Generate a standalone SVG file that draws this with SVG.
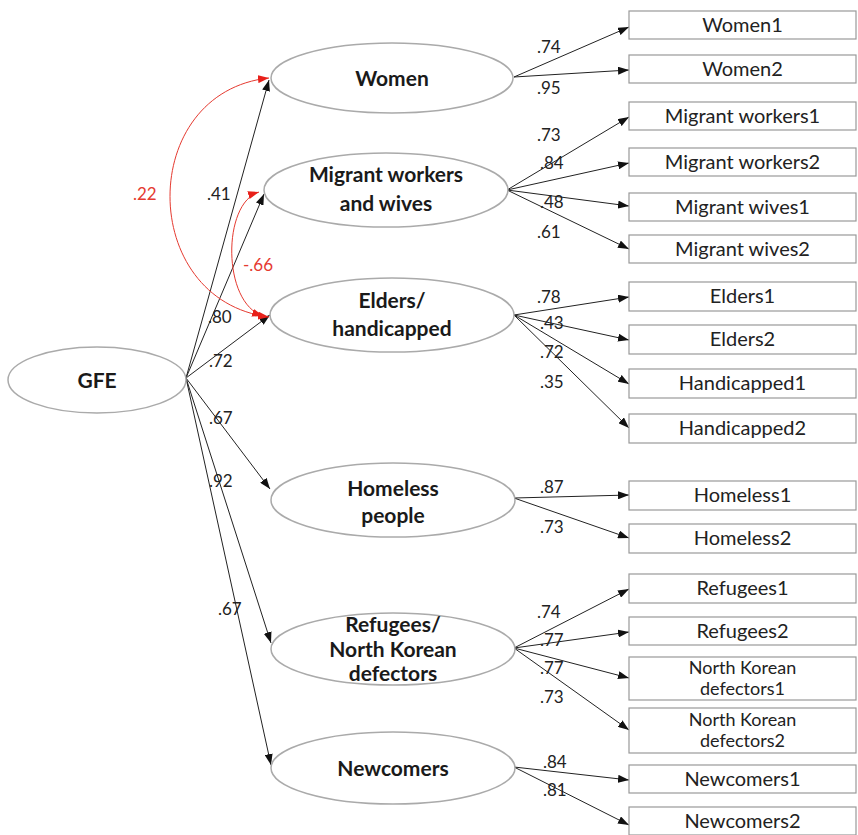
<svg xmlns="http://www.w3.org/2000/svg" width="858" height="835" viewBox="0 0 858 835">
<style>
.ell{fill:#fff;stroke:#aaa;stroke-width:1.5}
.box{fill:#fff;stroke:#999;stroke-width:1.2}
.lat{font-family:Lato,"Open Sans",sans-serif;font-weight:bold;font-size:21px;fill:#1a1a1a;text-anchor:middle}
.obs{font-family:Lato,"Open Sans",sans-serif;font-size:20px;fill:#222;text-anchor:middle}
.obs2{font-family:Lato,"Open Sans",sans-serif;font-size:18px;fill:#222;text-anchor:middle}
.coef{font-family:Lato,"Open Sans",sans-serif;font-size:17px;fill:#222}
.red{font-family:Lato,"Open Sans",sans-serif;font-size:17px;fill:#e53a30}
.arr{stroke:#222;stroke-width:1;fill:none;marker-end:url(#ah)}
.rarr{stroke:#e53a30;stroke-width:1;fill:none;marker-end:url(#rh);marker-start:url(#rhs)}
</style>
<defs>
<marker id="ah" markerUnits="userSpaceOnUse" markerWidth="11" markerHeight="8" refX="11" refY="4" orient="auto"><path d="M0,0 L11,4 L0,8 z" fill="#111"/></marker>
<marker id="rh" markerUnits="userSpaceOnUse" markerWidth="11" markerHeight="8" refX="11" refY="4" orient="auto"><path d="M0,0 L11,4 L0,8 z" fill="#e8201a"/></marker>
<marker id="rhs" markerUnits="userSpaceOnUse" markerWidth="11" markerHeight="8" refX="0" refY="4" orient="auto"><path d="M11,0 L0,4 L11,8 z" fill="#e8201a"/></marker>
</defs>

<g id="connectors">
<line class="arr" x1="186" y1="378" x2="269" y2="80"/>
<line class="arr" x1="186" y1="378" x2="264" y2="194"/>
<line class="arr" x1="186" y1="378" x2="270" y2="315"/>
<line class="arr" x1="186" y1="378" x2="270" y2="489"/>
<line class="arr" x1="186" y1="378" x2="271" y2="643"/>
<line class="arr" x1="186" y1="378" x2="271" y2="765"/>
<path class="rarr" d="M269,78 C137,92 137,300 269,317"/>
<path class="rarr" d="M259,192 C222,203 222,303 263,316"/>

<line class="arr" x1="514" y1="77" x2="629" y2="27"/>
<line class="arr" x1="514" y1="77" x2="629" y2="70"/>
<line class="arr" x1="507" y1="190" x2="629" y2="117"/>
<line class="arr" x1="507" y1="190" x2="629" y2="163"/>
<line class="arr" x1="507" y1="190" x2="629" y2="206"/>
<line class="arr" x1="507" y1="190" x2="629" y2="249"/>
<line class="arr" x1="514" y1="315" x2="629" y2="297"/>
<line class="arr" x1="514" y1="315" x2="629" y2="340"/>
<line class="arr" x1="514" y1="315" x2="629" y2="384"/>
<line class="arr" x1="514" y1="315" x2="629" y2="428"/>
<line class="arr" x1="514" y1="498" x2="629" y2="495"/>
<line class="arr" x1="514" y1="498" x2="629" y2="538"/>
<line class="arr" x1="514" y1="648" x2="629" y2="589"/>
<line class="arr" x1="514" y1="648" x2="629" y2="632"/>
<line class="arr" x1="514" y1="648" x2="629" y2="678"/>
<line class="arr" x1="514" y1="648" x2="629" y2="730"/>
<line class="arr" x1="514" y1="767" x2="629" y2="780"/>
<line class="arr" x1="514" y1="767" x2="629" y2="825"/>

<text class="red" x="133" y="200">.22</text>
<text class="red" x="243" y="271">-.66</text>
<text class="coef" x="207" y="200">.41</text>
<text class="coef" x="208" y="323">.80</text>
<text class="coef" x="209" y="367">.72</text>
<text class="coef" x="209" y="424">.67</text>
<text class="coef" x="209" y="487">.92</text>
<text class="coef" x="218" y="615">.67</text>

<text class="coef" x="537" y="53">.74</text>
<text class="coef" x="537" y="94">.95</text>
<text class="coef" x="537" y="141">.73</text>
<text class="coef" x="540" y="169">.84</text>
<text class="coef" x="540" y="208">.48</text>
<text class="coef" x="537" y="238">.61</text>
<text class="coef" x="537" y="303">.78</text>
<text class="coef" x="540" y="329">.43</text>
<text class="coef" x="540" y="358">.72</text>
<text class="coef" x="540" y="388">.35</text>
<text class="coef" x="540" y="493">.87</text>
<text class="coef" x="540" y="533">.73</text>
<text class="coef" x="537" y="618">.74</text>
<text class="coef" x="540" y="646">.77</text>
<text class="coef" x="540" y="674">.77</text>
<text class="coef" x="540" y="703">.73</text>
<text class="coef" x="543" y="768">.84</text>
<text class="coef" x="543" y="796">.81</text>
</g>

<g id="GFE"><ellipse class="ell" cx="97" cy="380" rx="89" ry="33"/><text class="lat" x="97" y="388">GFE</text></g>
<g id="Women"><ellipse class="ell" cx="392" cy="78" rx="121" ry="35"/><text class="lat" x="392" y="86">Women</text></g>
<g id="Migrant"><ellipse class="ell" cx="386" cy="190" rx="122" ry="37"/><text class="lat" x="386" y="182">Migrant workers</text><text class="lat" x="386" y="211">and wives</text></g>
<g id="Elders"><ellipse class="ell" cx="392" cy="315" rx="122" ry="37"/><text class="lat" x="392" y="308">Elders/</text><text class="lat" x="392" y="336">handicapped</text></g>
<g id="Homeless"><ellipse class="ell" cx="393" cy="500" rx="122" ry="37"/><text class="lat" x="393" y="496">Homeless</text><text class="lat" x="393" y="523">people</text></g>
<g id="Refugees"><ellipse class="ell" cx="393" cy="649" rx="122" ry="36"/><text class="lat" x="393" y="632">Refugees/</text><text class="lat" x="393" y="657">North Korean</text><text class="lat" x="393" y="681">defectors</text></g>
<g id="Newcomers"><ellipse class="ell" cx="393" cy="768" rx="122" ry="36"/><text class="lat" x="393" y="776">Newcomers</text></g>

<g id="Women1"><rect class="box" x="629" y="11" width="227" height="28"/><text class="obs" x="742.5" y="32">Women1</text></g>
<g id="Women2"><rect class="box" x="629" y="55" width="227" height="28"/><text class="obs" x="742.5" y="76">Women2</text></g>
<g id="MW1"><rect class="box" x="629" y="102" width="227" height="28"/><text class="obs" x="742.5" y="123">Migrant workers1</text></g>
<g id="MW2"><rect class="box" x="629" y="148" width="227" height="28"/><text class="obs" x="742.5" y="169">Migrant workers2</text></g>
<g id="MWives1"><rect class="box" x="629" y="193" width="227" height="28"/><text class="obs" x="742.5" y="214">Migrant wives1</text></g>
<g id="MWives2"><rect class="box" x="629" y="235" width="227" height="28"/><text class="obs" x="742.5" y="256">Migrant wives2</text></g>
<g id="Elders1"><rect class="box" x="629" y="282" width="227" height="29"/><text class="obs" x="742.5" y="303">Elders1</text></g>
<g id="Elders2"><rect class="box" x="629" y="325" width="227" height="29"/><text class="obs" x="742.5" y="346">Elders2</text></g>
<g id="Handicapped1"><rect class="box" x="629" y="369" width="227" height="29"/><text class="obs" x="742.5" y="390">Handicapped1</text></g>
<g id="Handicapped2"><rect class="box" x="629" y="414" width="227" height="29"/><text class="obs" x="742.5" y="435">Handicapped2</text></g>
<g id="Homeless1"><rect class="box" x="629" y="481" width="227" height="29"/><text class="obs" x="742.5" y="502">Homeless1</text></g>
<g id="Homeless2"><rect class="box" x="629" y="524" width="227" height="29"/><text class="obs" x="742.5" y="545">Homeless2</text></g>
<g id="Refugees1"><rect class="box" x="629" y="574" width="227" height="29"/><text class="obs" x="742.5" y="595">Refugees1</text></g>
<g id="Refugees2"><rect class="box" x="629" y="617" width="227" height="28"/><text class="obs" x="742.5" y="638">Refugees2</text></g>
<g id="NK1"><rect class="box" x="629" y="657" width="227" height="43"/><text class="obs2" x="742.5" y="674">North Korean</text><text class="obs2" x="742.5" y="695">defectors1</text></g>
<g id="NK2"><rect class="box" x="629" y="708" width="227" height="45"/><text class="obs2" x="742.5" y="726">North Korean</text><text class="obs2" x="742.5" y="747">defectors2</text></g>
<g id="Newcomers1"><rect class="box" x="629" y="765" width="227" height="28"/><text class="obs" x="742.5" y="786">Newcomers1</text></g>
<g id="Newcomers2"><rect class="box" x="629" y="807" width="227" height="28"/><text class="obs" x="742.5" y="828">Newcomers2</text></g>
</svg>
